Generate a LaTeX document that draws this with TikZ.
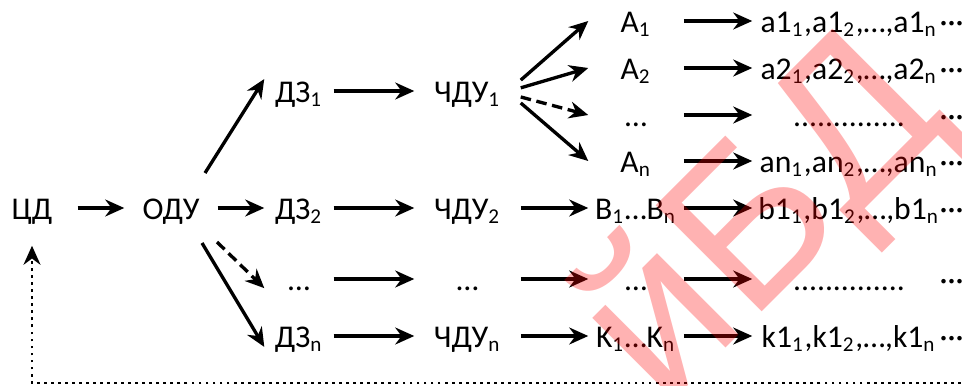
\documentclass[tikz,border=0pt]{standalone}
\usepackage{fontspec}
\setmainfont{Carlito}
\newfontfamily\wmfont{Liberation Sans}
\usetikzlibrary{arrows.meta,positioning,calc}

\begin{document}
\begin{tikzpicture}[
            x=0.01cm, y=-0.01cm,
            lbl/.style={inner sep=0pt, text height=6.8pt, text depth=0pt,
                font=\fontsize{9}{11}\selectfont},
            src/.style={lbl, minimum width=0.9cm, minimum height=0.74cm},
            mid/.style={lbl, minimum width=0.92cm},
            task/.style={lbl, minimum width=0.68cm},
            eqn/.style={lbl, minimum width=1.05cm},
            sol/.style={lbl, minimum width=0.94cm},
            res/.style={lbl, minimum width=1.92cm},
            tail/.style={lbl, anchor=west},
            wm/.style={text=red, text opacity=0.3, inner sep=0pt,
                font=\wmfont\fontsize{62}{62}\selectfont},
            arr/.style={->, line width=0.95pt},
            dasharr/.style={arr, dash pattern=on 3pt off 1.6pt},
            >={Stealth[length=5.4pt,width=4.8pt]}
        ]
        \useasboundingbox (0,0) rectangle (962,385);
        \clip (0,0) rectangle (962,385);

        % Draw left part %
        \node[src] (cd) at (32,208) {ЦД};
        \node[mid] (odu) at (171,208) {ОДУ};

        % Draw tasks %
        \node[task] (dz1) at (299,91) {ДЗ\textsubscript{1}};
        \node[task] (dz2) at (299,208) {ДЗ\textsubscript{2}};
        \node[task] (dzd) at (299,279) {…};
        \node[task] (dzn) at (299,336) {ДЗ\textsubscript{n}};

        % Draw equations %
        \node[eqn] (ch1) at (467.5,91) {ЧДУ\textsubscript{1}};
        \node[eqn] (ch2) at (467.5,208) {ЧДУ\textsubscript{2}};
        \node[eqn] (chd) at (467.5,279) {…};
        \node[eqn] (chn) at (467.5,336) {ЧДУ\textsubscript{n}};

        % Draw solutions %
        \node[sol] (a1) at (636,21) {A\textsubscript{1}};
        \node[sol] (a2) at (636,68) {A\textsubscript{2}};
        \node[sol] (ad) at (636,115) {…};
        \node[sol] (an) at (636,161) {A\textsubscript{n}};
        \node[sol] (b) at (636,208) {B\textsubscript{1}…B\textsubscript{n}};
        \node[sol] (sd) at (636,279) {…};
        \node[sol] (k) at (636,336) {K\textsubscript{1}…K\textsubscript{n}};

        % Draw results %
        \node[res] (ra1) at (849,21) {a1\textsubscript{1},a1\textsubscript{2},…,a1\textsubscript{n}};
        \node[res] (ra2) at (849,68) {a2\textsubscript{1},a2\textsubscript{2},…,a2\textsubscript{n}};
        \node[res] (rad) at (849,115) {..............};
        \node[res] (ran) at (849,161) {an\textsubscript{1},an\textsubscript{2},…,an\textsubscript{n}};
        \node[res] (rb) at (849,208) {b1\textsubscript{1},b1\textsubscript{2},…,b1\textsubscript{n}};
        \node[res] (rsd) at (849,279) {..............};
        \node[res] (rk) at (849,336) {k1\textsubscript{1},k1\textsubscript{2},…,k1\textsubscript{n}};
        \foreach \row in {ra1,ra2,rad,ran,rb,rsd,rk}
            \node[tail] (\row-t) at (939,0 |- \row) {···};

        % Draw arrows %
        \draw[arr] (cd) -- (odu);
        \draw[arr] ([shift={(34,-35)}]odu.center) -- ([yshift=3.4pt]dz1.west);
        \draw[arr] (odu) -- (dz2);
        \draw[dasharr] ([shift={(46,34)}]odu.center) -- ([yshift=-2.6pt]dzd.west);
        \draw[arr] ([shift={(31,35)}]odu.center) -- ([yshift=-3.1pt]dzn.west);
        \draw[arr] (dz1) -- (ch1);
        \draw[arr] (dz2) -- (ch2);
        \draw[arr] (dzd) -- (chd);
        \draw[arr] (dzn) -- (chn);
        \draw[arr] ([yshift=3.1pt]ch1.east) -- (a1.west);
        \draw[arr] ([yshift=0.9pt]ch1.east) -- (a2.west);
        \draw[dasharr] ([yshift=-1.7pt]ch1.east) -- (ad.west);
        \draw[arr] ([yshift=-3.4pt]ch1.east) -- (an.west);
        \draw[arr] (ch2) -- (b);
        \draw[arr] (chd) -- (sd);
        \draw[arr] (chn) -- (k);
        \foreach \s in {a1,a2,ad,an,b,sd,k}
            \draw[arr] (\s) -- (r\s);

        % Feedback %
        \coordinate (fb) at (975,383);
        \draw[->, line width=0.8pt, dash pattern=on 0.8pt off 1.2pt] (fb) -| (cd.south);

        % Watermark %
        \node[wm, rotate=45] (mark) at (767,223) {йБД};
\end{tikzpicture}
\end{document}
